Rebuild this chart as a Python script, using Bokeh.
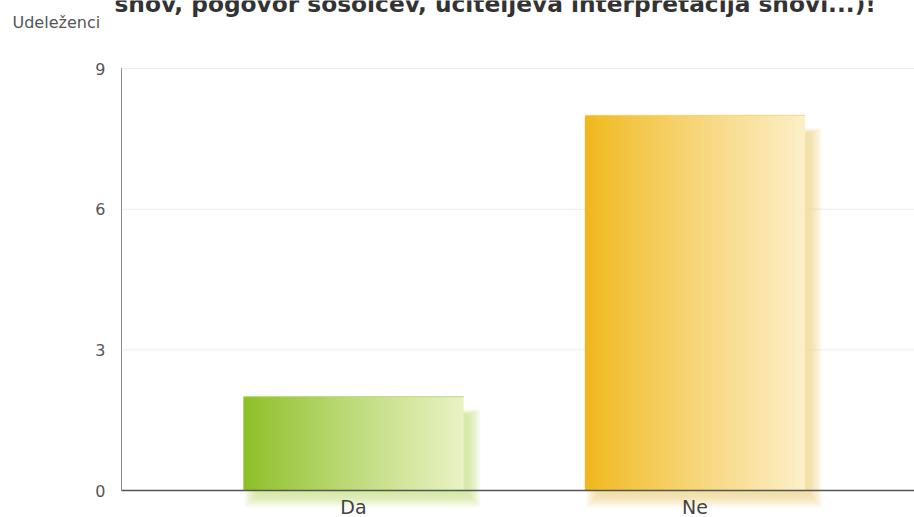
from bokeh.plotting import figure
from bokeh.core.properties import value
from bokeh.embed import file_html
from bokeh.resources import INLINE

# Survey answers
categories = ["Da", "Ne"]
counts = [2, 8]
y_ticks = [0, 3, 6, 9]
y_tick_labels = ["0", "3", "6", "9"]
title_text = "snov, pogovor sošolcev, učiteljeva interpretacija snovi...)!"
y_label = "Udeleženci"

# Gradient end colours per bar (left -> right)
left_colors = ["#8cbf26", "#f0b81c"]
right_colors = ["#e9f2c4", "#fcefc8"]
shadow_colors = ["#c3dc80", "#f3d67c"]

W, H = 914, 517
x_pos = [1, 2]
bar_w = 0.645

# the plot frame covers the whole canvas; axes are drawn as glyphs
px_x = 341.5          # pixels per category step
px_y = 422 / 9        # pixels per respondent
x_start = 1 - 353 / px_x
x_end = x_start + W / px_x
y_start = -(H - 490) / px_y
y_end = y_start + H / px_y


def sx(px):
    """canvas x pixel -> data x"""
    return x_start + px / px_x


def sy(py):
    """canvas y pixel (from top) -> data y"""
    return y_end - py / px_y


p = figure(width=W, height=H, output_backend="svg", toolbar_location=None,
           x_range=(x_start, x_end), y_range=(y_start, y_end),
           min_border=0)
p.outline_line_color = None
p.axis.visible = False
p.grid.visible = False
p.background_fill_color = "white"
p.border_fill_color = "white"

axis_x = sx(121)

# horizontal grid lines
p.segment(x0=[axis_x] * len(y_ticks), x1=[x_end] * len(y_ticks),
          y0=y_ticks, y1=y_ticks, line_color="#ececec", line_width=1)


def hex_to_rgb(h):
    h = h.lstrip("#")
    return tuple(int(h[i:i + 2], 16) for i in (0, 2, 4))


def mix(c1, c2, t):
    a, b = hex_to_rgb(c1), hex_to_rgb(c2)
    return "#%02x%02x%02x" % tuple(int(round(a[i] + (b[i] - a[i]) * t)) for i in range(3))


# soft drop shadow: many stacked faint rectangles, offset right and down
for xc, v, sc in zip(x_pos, counts, shadow_colors):
    for k in range(14):
        spread = k * 1.0
        p.quad(left=xc - bar_w / 2 + (14 - spread) / px_x,
               right=xc + bar_w / 2 + (4 + spread) / px_x,
               top=v - (18 - spread * 0.4) / px_y,
               bottom=-(4 + spread) / px_y,
               fill_color=sc, fill_alpha=0.07, line_color=None)

# gradient-filled bars built from thin overlapping vertical slices
n_slices = 80
for xc, v, lc, rc in zip(x_pos, counts, left_colors, right_colors):
    l0 = xc - bar_w / 2
    step = bar_w / n_slices
    lefts = [l0 + i * step for i in range(n_slices)]
    rights = [min(l0 + (i + 1) * step + 1.5 / px_x, l0 + bar_w) for i in range(n_slices)]
    cols = [mix(lc, rc, (i / (n_slices - 1)) ** 0.9) for i in range(n_slices)]
    p.quad(left=lefts, right=rights, top=[v] * n_slices, bottom=[0] * n_slices,
           fill_color=cols, line_color=None)
    # slightly darker top edge
    p.segment(x0=[l0], x1=[l0 + bar_w], y0=[v], y1=[v], line_color=mix(lc, rc, 0.35),
              line_width=1.2, line_alpha=0.6)

# y axis line and tick labels
p.segment(x0=[axis_x], x1=[axis_x], y0=[0], y1=[9], line_color="#8a8a8a", line_width=1)
p.text(x=[axis_x] * len(y_ticks), y=y_ticks, text=y_tick_labels, x_offset=-16,
       text_align="right", text_baseline="middle", text_font=value("DejaVu Sans"),
       text_font_size="16px", text_color="#555555")

# x axis baseline and category labels
p.segment(x0=[axis_x], x1=[x_end], y0=[0], y1=[0], line_color="#555555", line_width=1.5)
p.text(x=x_pos, y=[0, 0], text=categories, text_align="center", text_baseline="top",
       y_offset=5, text_font=value("DejaVu Sans"), text_font_size="19px",
       text_color="#444444")

# header texts (title runs past the top edge of the canvas)
p.text(x=[sx(114)], y=[sy(3)], text=[title_text], text_align="left",
       text_baseline="alphabetic", text_font=value("DejaVu Sans"),
       text_font_style="bold", text_font_size="23.3px", text_color="#333333")
p.text(x=[sx(12)], y=[sy(22)], text=[y_label], text_align="left",
       text_baseline="middle", text_font=value("DejaVu Sans"),
       text_font_size="16px", text_color="#555555")

open("out.html", "w").write(file_html(p, INLINE))
